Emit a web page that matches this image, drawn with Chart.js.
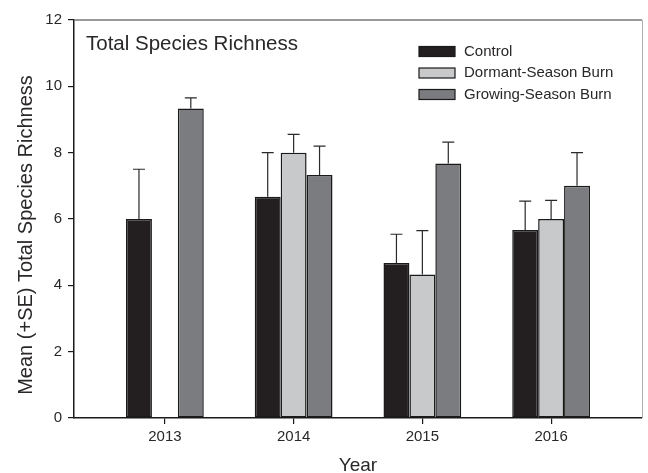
<!DOCTYPE html>
<html>
<head>
<meta charset="utf-8">
<title>Total Species Richness</title>
<script src="https://cdn.jsdelivr.net/npm/chart.js@4.4.1/dist/chart.umd.min.js"></script>
<style>
  html, body { margin: 0; padding: 0; background: #fff; }
  canvas { display: block; }
</style>
</head>
<body>
<canvas id="richnessChart" width="648" height="473"></canvas>
<script>
// Datos: media y error estándar por tratamiento y año
const years = [2013, 2014, 2015, 2016];
const controlMean = [6.0, 6.67, 4.67, 5.67];
const controlSE = [1.5, 1.33, 0.87, 0.87];
const dormantMean = [null, 8.0, 4.33, 6.0];
const dormantSE = [null, 0.55, 1.32, 0.56];
const growingMean = [9.33, 7.33, 7.67, 7.0];
const growingSE = [0.32, 0.87, 0.65, 1.0];
const yTicks = [0, 2, 4, 6, 8, 10, 12];

const FONT = "'Liberation Sans', Arial, sans-serif";
const TEXT = '#2a2728';

function toPoints(means) {
    return years.map((yr, i) => ({ x: yr, y: means[i] }));
}

function barDataset(label, means, errors, fill) {
    return {
        label: label,
        data: toPoints(means),
        errors: errors,
        backgroundColor: fill,
        borderColor: '#1a1a1a',
        borderWidth: 1.5,
        borderSkipped: false,
        categoryPercentage: 0.604,
        barPercentage: 1.0
    };
}

// Barras de error (+SE) encima de cada barra
const errorBars = {
    id: 'errorBars',
    afterDatasetsDraw(chart) {
        const ctx = chart.ctx;
        const yScale = chart.scales.y;
        ctx.save();
        ctx.strokeStyle = '#2a2a2a';
        ctx.lineWidth = 1.2;
        chart.data.datasets.forEach((ds, d) => {
            const meta = chart.getDatasetMeta(d);
            meta.data.forEach((bar, i) => {
                const mean = ds.data[i].y;
                if (mean === null) return;
                const top = yScale.getPixelForValue(mean + ds.errors[i]);
                ctx.beginPath();
                ctx.moveTo(bar.x, bar.y);
                ctx.lineTo(bar.x, top);
                ctx.moveTo(bar.x - 6, top);
                ctx.lineTo(bar.x + 6, top);
                ctx.stroke();
            });
        });
        ctx.restore();
    }
};

// Marco, títulos de ejes, título interno y leyenda
const decorations = {
    id: 'decorations',
    afterDraw(chart) {
        const ctx = chart.ctx;
        const a = chart.chartArea;
        ctx.save();

        // borde superior y derecho en gris
        ctx.strokeStyle = '#777';
        ctx.lineWidth = 1.5;
        ctx.beginPath();
        ctx.moveTo(a.left, a.top);
        ctx.lineTo(a.right, a.top);
        ctx.stroke();
        ctx.strokeStyle = '#b0b0b0';
        ctx.lineWidth = 1;
        ctx.beginPath();
        ctx.moveTo(a.right + 0.5, a.top);
        ctx.lineTo(a.right + 0.5, a.bottom);
        ctx.stroke();

        ctx.fillStyle = TEXT;
        ctx.font = '20.5px ' + FONT;
        ctx.textAlign = 'left';
        ctx.textBaseline = 'alphabetic';
        ctx.fillText('Total Species Richness', a.left + 12, 50);

        // título eje X
        ctx.font = '19px ' + FONT;
        ctx.textAlign = 'center';
        ctx.textBaseline = 'middle';
        ctx.fillText('Year', (a.left + a.right) / 2, 466);

        // título eje Y
        ctx.font = '20px ' + FONT;
        ctx.translate(26, 235);
        ctx.rotate(-Math.PI / 2);
        ctx.fillText('Mean (+SE) Total Species Richness', 0, 0);
        ctx.setTransform(1, 0, 0, 1, 0, 0);

        // leyenda
        ctx.font = '15px ' + FONT;
        ctx.textAlign = 'left';
        ctx.textBaseline = 'middle';
        const rowY = [51.5, 73, 94.5];
        chart.data.datasets.forEach((ds, d) => {
            const y = rowY[d];
            ctx.fillStyle = ds.backgroundColor;
            ctx.fillRect(419, y - 5, 36, 10);
            ctx.strokeStyle = '#1a1a1a';
            ctx.lineWidth = 1.2;
            ctx.strokeRect(419, y - 5, 36, 10);
            ctx.fillStyle = TEXT;
            ctx.fillText(ds.label, 464, y);
        });
        ctx.restore();
    }
};

const ctx = document.getElementById('richnessChart').getContext('2d');
new Chart(ctx, {
    type: 'bar',
    data: {
        datasets: [
            barDataset('Control', controlMean, controlSE, '#231f20'),
            barDataset('Dormant-Season Burn', dormantMean, dormantSE, '#c8c9cb'),
            barDataset('Growing-Season Burn', growingMean, growingSE, '#7b7c7f')
        ]
    },
    options: {
        responsive: false,
        devicePixelRatio: 1,
        animation: false,
        layout: { padding: { top: 20, right: 6, left: 0, bottom: 0 } },
        plugins: { legend: { display: false }, tooltip: { enabled: false } },
        scales: {
            x: {
                type: 'linear',
                min: 2012.294,
                max: 2016.706,
                offset: false,
                grid: { offset: false, drawOnChartArea: false, drawTicks: true, tickLength: 6, color: '#1a1a1a', lineWidth: 1.2 },
                border: { display: true, color: '#1a1a1a', width: 1.5 },
                ticks: {
                    stepSize: 1,
                    includeBounds: false,
                    padding: 4,
                    color: TEXT,
                    font: { family: FONT, size: 15 },
                    callback: v => String(v)
                },
                afterFit: scale => { scale.height = 55; }
            },
            y: {
                min: 0,
                max: 12,
                grid: { drawOnChartArea: false, drawTicks: true, tickLength: 6, color: '#1a1a1a', lineWidth: 1.2 },
                border: { display: true, color: '#1a1a1a', width: 1.5 },
                afterBuildTicks: scale => { scale.ticks = yTicks.map(v => ({ value: v })); },
                ticks: {
                    padding: 6,
                    color: TEXT,
                    font: { family: FONT, size: 15 }
                },
                afterFit: scale => { scale.width = 74; }
            }
        }
    },
    plugins: [errorBars, decorations]
});
</script>
</body>
</html>
